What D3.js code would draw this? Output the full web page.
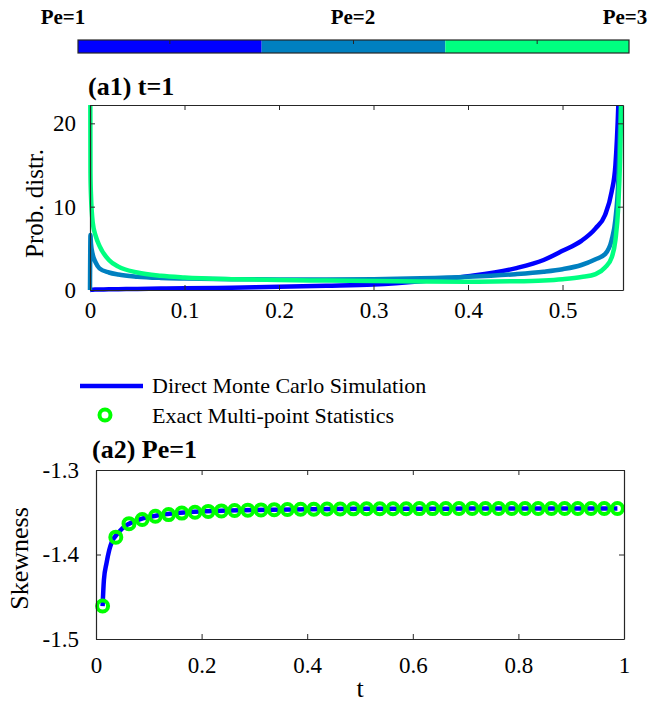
<!DOCTYPE html>
<html>
<head>
<meta charset="utf-8">
<script src="https://cdn.jsdelivr.net/npm/d3@7"></script>
<style>
  body { margin: 0; background: #fff; }
  svg text { font-family: "Liberation Serif", "Times New Roman", Times, Tinos, "Nimbus Roman", "DejaVu Serif", serif !important; fill: #000; }
</style>
</head>
<body>
<div id="chart"></div>
<script>
// colorbar
const peLabels = ["Pe=1", "Pe=2", "Pe=3"];
const peColors = ["#0000ff", "#0080c0", "#00ff80"];

// (a1) probability distribution at t=1
const pdfX  = [0, 0.0005, 0.001, 0.003, 0.006, 0.01, 0.02, 0.03, 0.05, 0.075, 0.1, 0.15, 0.2, 0.25, 0.3, 0.35, 0.4, 0.45, 0.48, 0.5, 0.52, 0.535, 0.545, 0.552, 0.556, 0.559, 0.561, 0.5625, 0.564];
const pdfPe1 = [0, 0.01, 0.02, 0.04, 0.05, 0.06, 0.08, 0.1, 0.13, 0.17, 0.2, 0.28, 0.38, 0.5, 0.65, 1.05, 1.65, 2.6, 3.6, 4.7, 5.9, 7.4, 9.0, 11.8, 15, 22, 30, 36, 40];
const pdfPe2 = [0, 6.6, 5.6, 4.2, 3.3, 2.6, 2.1, 1.85, 1.6, 1.45, 1.38, 1.3, 1.27, 1.27, 1.3, 1.4, 1.58, 1.9, 2.2, 2.5, 3.0, 3.7, 4.3, 6.0, 8.5, 13, 20, 26, 32];
const pdfPe3 = [40, 14, 11.5, 8, 6.5, 5.3, 3.6, 2.8, 2.1, 1.7, 1.5, 1.3, 1.2, 1.13, 1.08, 1.03, 1.0, 1.05, 1.15, 1.3, 1.55, 1.9, 2.7, 3.9, 6, 10, 16, 24, 30];
const pdfXTicks = [0, 0.1, 0.2, 0.3, 0.4, 0.5];
const pdfYTicks = [0, 10, 20];

// (a2) skewness vs t, Pe=1
const mcT    = [0.0125, 0.015, 0.02, 0.025, 0.03, 0.04, 0.05, 0.06, 0.08, 0.1, 0.13, 0.16, 0.2, 0.25, 0.3, 0.4, 0.5, 0.6, 0.7, 0.8, 0.9, 0.9875];
const mcSkew = [-1.461, -1.43, -1.41, -1.395, -1.385, -1.376, -1.369, -1.3645, -1.359, -1.3555, -1.3525, -1.3505, -1.349, -1.348, -1.3472, -1.3465, -1.346, -1.3458, -1.3457, -1.3456, -1.3455, -1.3455];
const exT = [0.0125, 0.0375, 0.0625, 0.0875, 0.1125, 0.1375, 0.1625, 0.1875, 0.2125, 0.2375,
             0.2625, 0.2875, 0.3125, 0.3375, 0.3625, 0.3875, 0.4125, 0.4375, 0.4625, 0.4875,
             0.5125, 0.5375, 0.5625, 0.5875, 0.6125, 0.6375, 0.6625, 0.6875, 0.7125, 0.7375,
             0.7625, 0.7875, 0.8125, 0.8375, 0.8625, 0.8875, 0.9125, 0.9375, 0.9625, 0.9875];
const exSkew = [-1.461, -1.3795, -1.3635, -1.3585, -1.3548, -1.3528, -1.351, -1.35, -1.349, -1.3484,
                -1.3479, -1.3475, -1.3472, -1.3469, -1.3467, -1.3465, -1.3464, -1.3462, -1.3461, -1.346,
                -1.3459, -1.3459, -1.3458, -1.3458, -1.3457, -1.3457, -1.3457, -1.3456, -1.3456, -1.3456,
                -1.3456, -1.3455, -1.3455, -1.3455, -1.3455, -1.3455, -1.3455, -1.3455, -1.3455, -1.3455];
const skewXTicks = [0, 0.2, 0.4, 0.6, 0.8, 1];
const skewYTicks = [-1.5, -1.4, -1.3];
const legendLabels = ["Direct Monte Carlo Simulation", "Exact Multi-point Statistics"];

const svg = d3.select("#chart").append("svg")
    .attr("width", 651)
    .attr("height", 710);

// ---- colorbar ----
const cb = d3.scaleBand().domain(peLabels).range([78, 629]);
svg.append("g").selectAll("rect")
    .data(peLabels)
    .join("rect")
    .attr("x", d => cb(d))
    .attr("y", 40)
    .attr("width", cb.bandwidth())
    .attr("height", 13)
    .attr("fill", (d, i) => peColors[i]);
svg.append("rect").attr("x", 78).attr("y", 40).attr("width", 551).attr("height", 13)
    .attr("fill", "none").attr("stroke", "#262626").attr("stroke-width", 1.2);
svg.append("g").selectAll("line")
    .data(peLabels)
    .join("line")
    .attr("x1", d => cb(d) + cb.bandwidth() / 2)
    .attr("x2", d => cb(d) + cb.bandwidth() / 2)
    .attr("y1", 40).attr("y2", 44)
    .attr("stroke", "#262626");
const cbLabelX = [63, 353, 625];
svg.append("g").selectAll("text")
    .data(peLabels)
    .join("text")
    .attr("x", (d, i) => cbLabelX[i])
    .attr("y", 24)
    .attr("text-anchor", "middle")
    .style("font-size", "21px")
    .style("font-weight", "bold")
    .text(d => d);

// ---- panel a1 ----
const w1 = {l: 90, r: 623, t: 105, b: 290};
const x1 = d3.scaleLinear().domain([0, 0.564]).range([w1.l, w1.r]);
const y1 = d3.scaleLinear().domain([0, 22.2]).range([w1.b, w1.t]);

svg.append("clipPath").attr("id", "clip1").append("rect")
    .attr("x", w1.l - 6).attr("y", w1.t).attr("width", w1.r - w1.l + 12).attr("height", w1.b - w1.t + 6);

const g1 = svg.append("g").attr("clip-path", "url(#clip1)");
[pdfPe1, pdfPe2, pdfPe3].forEach(function (vals, i) {
    g1.append("path")
        .datum(pdfX.map((x, j) => [x, vals[j]]))
        .attr("fill", "none")
        .attr("stroke", peColors[i])
        .attr("stroke-width", 4.5)
        .attr("d", d3.line().x(d => x1(d[0])).y(d => y1(d[1])).curve(d3.curveMonotoneX));
});

function frame(x, y, w, xt, yt, xfmt, yfmt, pads) {
    svg.append("g").attr("transform", `translate(0,${w.b})`)
        .call(d3.axisBottom(x).tickValues(xt).tickFormat(xfmt).tickSize(-5).tickSizeOuter(0).tickPadding(pads[0]));
    svg.append("g").attr("transform", `translate(0,${w.t})`)
        .call(d3.axisTop(x).tickValues(xt).tickFormat("").tickSize(-5).tickSizeOuter(0));
    svg.append("g").attr("transform", `translate(${w.l},0)`)
        .call(d3.axisLeft(y).tickValues(yt).tickFormat(yfmt).tickSize(-5).tickSizeOuter(0).tickPadding(pads[1]));
    svg.append("g").attr("transform", `translate(${w.r},0)`)
        .call(d3.axisRight(y).tickValues(yt).tickFormat("").tickSize(-5).tickSizeOuter(0));
    svg.selectAll(".tick text").style("font-size", "23px").attr("fill", "#000");
    svg.selectAll(".tick line").attr("stroke", "#262626");
    svg.selectAll(".domain").attr("stroke", "#262626").attr("stroke-width", 1.2);
}
frame(x1, y1, w1, pdfXTicks, pdfYTicks, d => d.toString(), d => d.toString(), [12, 14]);

svg.append("text").attr("x", 88).attr("y", 95)
    .style("font-size", "26px").style("font-weight", "bold").text("(a1) t=1");
svg.append("text").attr("transform", `translate(43,${(w1.t + w1.b) / 2 + 6}) rotate(-90)`)
    .attr("text-anchor", "middle").style("font-size", "25px").text("Prob. distr.");

// ---- legend ----
svg.append("line").attr("x1", 80).attr("x2", 143).attr("y1", 386).attr("y2", 386)
    .attr("stroke", "#0000ff").attr("stroke-width", 4.5);
svg.append("circle").attr("cx", 105).attr("cy", 415).attr("r", 5.5)
    .attr("fill", "none").attr("stroke", "#00ff00").attr("stroke-width", 4);
svg.append("g").selectAll("text")
    .data(legendLabels)
    .join("text")
    .attr("x", 152)
    .attr("y", (d, i) => 393 + i * 30)
    .style("font-size", "22px")
    .text(d => d);

// ---- panel a2 ----
const w2 = {l: 96, r: 624, t: 470, b: 639};
const x2 = d3.scaleLinear().domain([0, 1]).range([w2.l, w2.r]);
const y2 = d3.scaleLinear().domain([-1.5, -1.3]).range([w2.b, w2.t]);

svg.append("path")
    .datum(mcT.map((t, j) => [t, mcSkew[j]]))
    .attr("fill", "none")
    .attr("stroke", "#0000ff")
    .attr("stroke-width", 4.5)
    .attr("d", d3.line().x(d => x2(d[0])).y(d => y2(d[1])).curve(d3.curveMonotoneX));

svg.append("g").selectAll("circle")
    .data(exT.map((t, j) => [t, exSkew[j]]))
    .join("circle")
    .attr("cx", d => x2(d[0]))
    .attr("cy", d => y2(d[1]))
    .attr("r", 5.5)
    .attr("fill", "none")
    .attr("stroke", "#00ff00")
    .attr("stroke-width", 4);

frame(x2, y2, w2, skewXTicks, skewYTicks, d => d.toString(), d => d.toFixed(1), [18, 17]);

svg.append("text").attr("x", 92).attr("y", 458)
    .style("font-size", "26px").style("font-weight", "bold").text("(a2) Pe=1");
svg.append("text").attr("transform", `translate(28,${(w2.t + w2.b) / 2 + 4}) rotate(-90)`)
    .attr("text-anchor", "middle").style("font-size", "26px").text("Skewness");
svg.append("text").attr("x", (w2.l + w2.r) / 2).attr("y", 697)
    .attr("text-anchor", "middle").style("font-size", "26px").text("t");
</script>
</body>
</html>
